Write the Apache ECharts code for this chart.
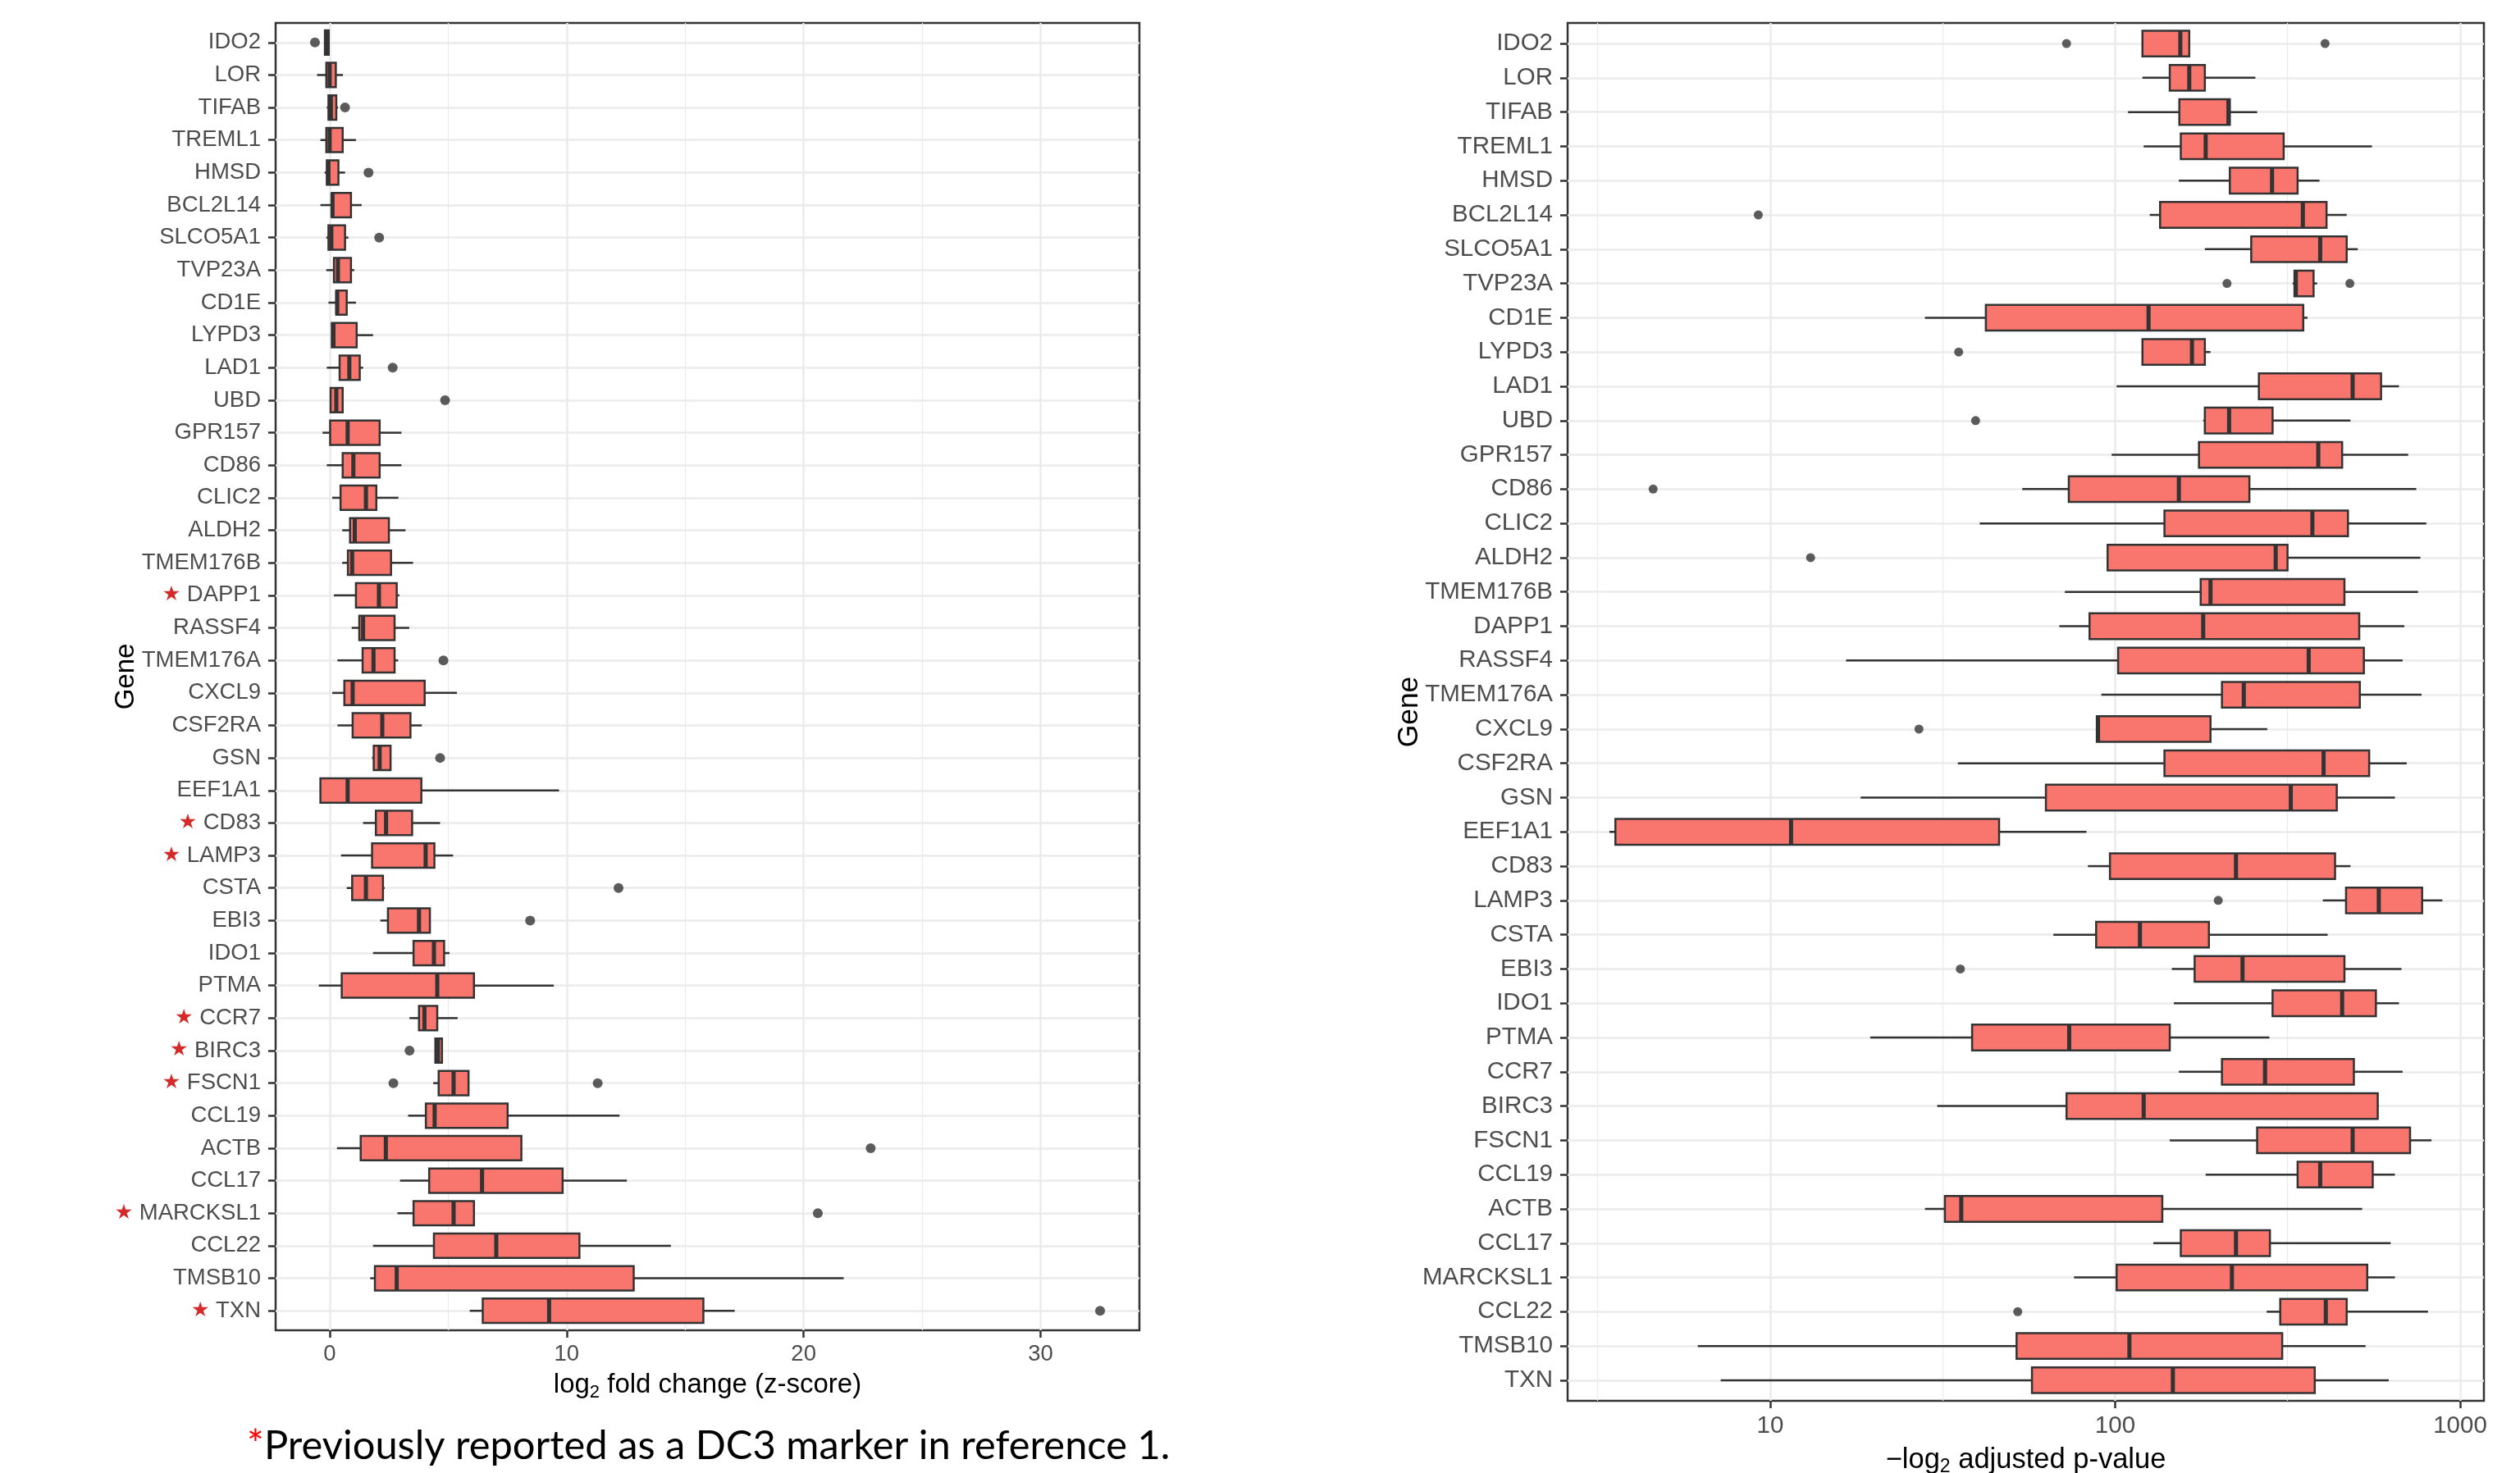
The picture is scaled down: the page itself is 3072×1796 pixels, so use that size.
<!DOCTYPE html>
<html>
<head>
<meta charset="utf-8">
<script src="https://cdn.jsdelivr.net/npm/echarts@6/dist/echarts.min.js"></script>
<style>
html,body{margin:0;padding:0;background:#ffffff;}
#chart{width:3072px;height:1796px;}
</style>
</head>
<body>
<div id="chart"></div>
<script>
// ---------------- data ----------------
const genes = ['IDO2','LOR','TIFAB','TREML1','HMSD','BCL2L14','SLCO5A1','TVP23A','CD1E','LYPD3',
  'LAD1','UBD','GPR157','CD86','CLIC2','ALDH2','TMEM176B','DAPP1','RASSF4','TMEM176A',
  'CXCL9','CSF2RA','GSN','EEF1A1','CD83','LAMP3','CSTA','EBI3','IDO1','PTMA',
  'CCR7','BIRC3','FSCN1','CCL19','ACTB','CCL17','MARCKSL1','CCL22','TMSB10','TXN'];

const dc3Markers = ['DAPP1','CD83','LAMP3','CCR7','BIRC3','FSCN1','MARCKSL1','TXN'];

// left panel: log2 fold change (z-score)
const fcLow    = [-0.22,-0.53,-0.12,-0.39,-0.21,-0.39,-0.14,-0.14,-0.05,0.09, -0.12,0.02,-0.30,-0.12,0.11,0.53,0.53,0.18,0.93,0.33, 0.11,0.33,1.79,-0.39,1.41,0.48,0.72,2.14,1.83,-0.46, 3.37,4.46,4.37,3.31,0.31,2.97,2.86,1.83,1.71,5.91];
const fcQ1     = [-0.20,-0.14,-0.05,-0.14,-0.12,0.09,-0.05,0.18,0.28,0.09, 0.42,0.04,0.02,0.55,0.46,0.86,0.77,1.11,1.25,1.39, 0.62,0.97,1.86,-0.39,1.95,1.79,0.95,2.46,3.54,0.51, 3.77,4.46,4.60,4.06,1.31,4.20,3.54,4.40,1.91,6.46];
const fcMedian = [-0.12,0.00,0.05,0.00,-0.05,0.12,0.07,0.35,0.32,0.16, 0.83,0.28,0.76,1.00,1.53,1.06,0.95,2.08,1.41,1.85, 0.97,2.22,2.11,0.76,2.38,4.05,1.53,3.77,4.40,4.54, 4.00,4.57,5.23,4.43,2.37,6.43,5.23,7.03,2.83,9.26];
const fcQ3     = [-0.04,0.26,0.28,0.55,0.37,0.90,0.65,0.90,0.72,1.14, 1.27,0.55,2.11,2.11,1.97,2.50,2.59,2.83,2.74,2.74, 4.01,3.41,2.57,3.87,3.48,4.42,2.25,4.23,4.83,6.09, 4.54,4.74,5.86,7.51,8.09,9.83,6.09,10.54,12.83,15.77];
const fcHigh   = [-0.02,0.56,0.35,1.11,0.65,1.35,0.79,1.04,1.11,1.83, 1.41,0.57,3.03,3.03,2.90,3.20,3.52,2.94,3.36,2.89, 5.37,3.89,2.59,9.68,4.66,5.21,2.32,4.23,5.06,9.46, 5.40,4.74,5.89,12.23,8.09,12.54,6.11,14.40,21.69,17.09];
const fcOutlierGenes  = ['IDO2','TIFAB','HMSD','SLCO5A1','LAD1','UBD','TMEM176A','GSN','CSTA','EBI3','BIRC3','FSCN1','FSCN1','ACTB','MARCKSL1','TXN'];
const fcOutlierValues = [-0.62,0.65,1.64,2.09,2.66,4.87,4.80,4.66,12.19,8.46,3.37,2.69,11.31,22.83,20.60,32.51];

// right panel: -log2 adjusted p-value
const pLow    = [120,120,109,121,153,126,182,327,28.1,120, 101,180,97.7,53.8,40.5,95.1,71.5,68.9,16.6,91.2, 88.5,35.0,18.3,3.42,83.4,400,66.2,146,148,19.5, 153,30.5,144,183,28.1,129,76.0,275,6.17,7.19];
const pQ1     = [120,144,153.5,155,215,135,248,331,42.2,120, 261,182,175,73.4,139,95.1,177,84.3,102,204, 88.5,139,63.0,3.56,96.6,467,88.1,170,286,38.5, 204,72.3,258,338,32.1,155,101,301,51.8,57.4];
const pMedian = [154.5,164,213,183,285,350,393,334,125,167, 488,214,388,153,373,292,189,180,364,236, 89.2,402,323,11.5,224,581,118,234,455,73.6, 272,121,488,393,35.8,224,218,408,110,147];
const pQ3     = [164,182,215,308,338,410,469,376,351,182, 590,286,455,245,473,316,462,510,526,512, 189,545,439,46.1,434,776,187,462,570,144, 492,577,716,558,137,281,538,469,305,379];
const pHigh   = [164,255,258,555,391,469,505,385,361,189, 665,481,707,746,798,767,755,689,681,773, 276,700,647,82.6,481,888,413,676,665,280, 681,581,826,647,520,629,647,807,532,621];
const pOutlierGenes  = ['IDO2','IDO2','BCL2L14','TVP23A','TVP23A','LYPD3','UBD','CD86','ALDH2','CXCL9','LAMP3','EBI3','CCL22'];
const pOutlierValues = [72.3,406,9.24,211,479,35.2,39.4,4.58,13.1,27.0,199,35.6,52.2];

// tick labels
const fcTicks = [0,10,20,30];
const fcMinorTicks = [5,15,25];
const pTicks = [10,100,1000];
const pMinorTicks = [3.162,31.62,316.2];
const geneTicks = genes.map((g, i) => i);

// ---------------- styling ----------------
const FONT = "'Liberation Sans', Arial, sans-serif";
const GRID_MAJOR = '#EBEBEB';
const DARK = '#333333';
const TEXT = '#4D4D4D';
const FILL = '#F8766D';

function boxItem(params, api) {
  const yi = api.value(0);
  const lo = api.coord([api.value(1), yi]);
  const q1 = api.coord([api.value(2), yi]);
  const md = api.coord([api.value(3), yi]);
  const q3 = api.coord([api.value(4), yi]);
  const hi = api.coord([api.value(5), yi]);
  const ya = api.coord([api.value(3), yi - 0.375])[1];
  const yb = api.coord([api.value(3), yi + 0.375])[1];
  const y0 = Math.min(ya, yb);
  const h = Math.abs(yb - ya);
  const y = md[1];
  return {
    type: 'group',
    children: [
      { type: 'line', shape: { x1: lo[0], y1: y, x2: q1[0], y2: y }, style: { stroke: DARK, lineWidth: 2.5 } },
      { type: 'line', shape: { x1: q3[0], y1: y, x2: hi[0], y2: y }, style: { stroke: DARK, lineWidth: 2.5 } },
      { type: 'rect', shape: { x: q1[0], y: y0, width: q3[0] - q1[0], height: h }, style: { fill: FILL, stroke: DARK, lineWidth: 2.5 } },
      { type: 'line', shape: { x1: md[0], y1: y0, x2: md[0], y2: y0 + h }, style: { stroke: DARK, lineWidth: 5 } }
    ]
  };
}

function geneAxis(gridIndex, fontSize, withStars, nameGap) {
  return {
    type: 'value', gridIndex: gridIndex, min: -0.6, max: 39.6, inverse: true,
    name: 'Gene', nameLocation: 'middle', nameGap: nameGap, nameMoveOverlap: false,
    nameTextStyle: { fontFamily: FONT, fontSize: fontSize * 1.2, color: '#000000' },
    axisLine: { show: false, onZero: false },
    axisTick: { show: true, customValues: geneTicks, length: 9, lineStyle: { color: DARK, width: 2.5 } },
    axisLabel: {
      show: true, customValues: geneTicks, margin: 18,
      fontFamily: FONT, fontSize: fontSize, color: TEXT,
      formatter: function (v) {
        const g = genes[Math.round(v)];
        return (withStars && dc3Markers.indexOf(g) >= 0) ? '{star|\u2605} ' + g : g;
      },
      rich: { star: { color: '#D42A2A', fontSize: 25, fontFamily: "'DejaVu Sans', sans-serif" } }
    },
    splitLine: { show: true, lineStyle: { color: GRID_MAJOR, width: 2.5 } }
  };
}

const option = {
  animation: false,
  backgroundColor: '#ffffff',
  grid: [
    { left: 336, top: 28, width: 1053, height: 1594, show: true, borderColor: DARK, borderWidth: 2.5, backgroundColor: 'transparent', containLabel: false, outerBoundsMode: 'none' },
    { left: 1911, top: 28, width: 1117, height: 1680, show: true, borderColor: DARK, borderWidth: 2.5, backgroundColor: 'transparent', containLabel: false, outerBoundsMode: 'none' }
  ],
  xAxis: [
    {
      type: 'value', gridIndex: 0, min: -2.28, max: 34.17,
      name: 'log{sub|2} fold change (z-score)', nameLocation: 'middle', nameGap: 47, nameMoveOverlap: false,
      nameTextStyle: { fontFamily: FONT, fontSize: 33, color: '#000000', lineHeight: 40,
        rich: { sub: { fontFamily: FONT, fontSize: 22, lineHeight: 22, verticalAlign: 'bottom', color: '#000000' } } },
      axisLine: { show: false, onZero: false },
      axisTick: { show: true, customValues: fcTicks, length: 9, lineStyle: { color: DARK, width: 2.5 } },
      axisLabel: { show: true, customValues: fcTicks, margin: 15, fontFamily: FONT, fontSize: 27.5, color: TEXT },
      splitLine: { show: true, lineStyle: { color: GRID_MAJOR, width: 2.5 } }
    },
    {
      type: 'value', gridIndex: 0, min: -2.28, max: 34.17, position: 'bottom',
      axisLine: { show: false, onZero: false },
      axisTick: { show: false, customValues: fcMinorTicks },
      axisLabel: { show: false, customValues: fcMinorTicks },
      splitLine: { show: true, lineStyle: { color: GRID_MAJOR, width: 1.3 } }
    },
    {
      type: 'log', logBase: 10, gridIndex: 1, min: 2.588, max: 1172,
      name: '\u2212log{sub|2} adjusted p-value', nameLocation: 'middle', nameGap: 52, nameMoveOverlap: false,
      nameTextStyle: { fontFamily: FONT, fontSize: 34.5, color: '#000000', lineHeight: 40,
        rich: { sub: { fontFamily: FONT, fontSize: 23, lineHeight: 23, verticalAlign: 'bottom', color: '#000000' } } },
      axisLine: { show: false, onZero: false },
      axisTick: { show: true, customValues: pTicks, length: 9, lineStyle: { color: DARK, width: 2.5 } },
      axisLabel: { show: true, customValues: pTicks, margin: 16, fontFamily: FONT, fontSize: 29.5, color: TEXT,
        formatter: function (v) { return String(Math.round(v)); } },
      splitLine: { show: true, lineStyle: { color: GRID_MAJOR, width: 2.5 } }
    },
    {
      type: 'log', logBase: 10, gridIndex: 1, min: 2.588, max: 1172, position: 'bottom',
      axisLine: { show: false, onZero: false },
      axisTick: { show: false, customValues: pMinorTicks },
      axisLabel: { show: false, customValues: pMinorTicks },
      splitLine: { show: true, lineStyle: { color: GRID_MAJOR, width: 1.3 } }
    }
  ],
  yAxis: [
    geneAxis(0, 27.5, true, 166),
    geneAxis(1, 29.5, false, 175)
  ],
  series: [
    {
      type: 'custom', name: 'log2 fold change', coordinateSystem: 'cartesian2d',
      xAxisIndex: 0, yAxisIndex: 0,
      renderItem: boxItem,
      encode: { x: [1, 2, 3, 4, 5], y: 0 },
      data: genes.map((g, i) => [i, fcLow[i], fcQ1[i], fcMedian[i], fcQ3[i], fcHigh[i]]),
      z: 3
    },
    {
      type: 'scatter', name: 'fc outliers', xAxisIndex: 0, yAxisIndex: 0,
      symbol: 'circle', symbolSize: 12, itemStyle: { color: DARK },
      data: fcOutlierGenes.map((g, k) => [fcOutlierValues[k], genes.indexOf(g)]),
      z: 4
    },
    {
      type: 'custom', name: 'adjusted p-value', coordinateSystem: 'cartesian2d',
      xAxisIndex: 2, yAxisIndex: 1,
      renderItem: boxItem,
      encode: { x: [1, 2, 3, 4, 5], y: 0 },
      data: genes.map((g, i) => [i, pLow[i], pQ1[i], pMedian[i], pQ3[i], pHigh[i]]),
      z: 3
    },
    {
      type: 'scatter', name: 'p outliers', xAxisIndex: 2, yAxisIndex: 1,
      symbol: 'circle', symbolSize: 11, itemStyle: { color: DARK },
      data: pOutlierGenes.map((g, k) => [pOutlierValues[k], genes.indexOf(g)]),
      z: 4
    }
  ],
  graphic: [
    { type: 'text', x: 301, y: 1762, style: { text: '*', font: "49px Lato, 'Liberation Sans', sans-serif", fill: '#FF0000', verticalAlign: 'middle' } },
    { type: 'text', x: 322, y: 1763, style: { text: 'Previously reported as a DC3 marker in reference 1.', font: "48.8px Lato, 'Liberation Sans', sans-serif", fill: '#000000', verticalAlign: 'middle' } }
  ]
};

const chart = echarts.init(document.getElementById('chart'), null, { renderer: 'canvas' });
chart.setOption(option);
</script>
</body>
</html>
